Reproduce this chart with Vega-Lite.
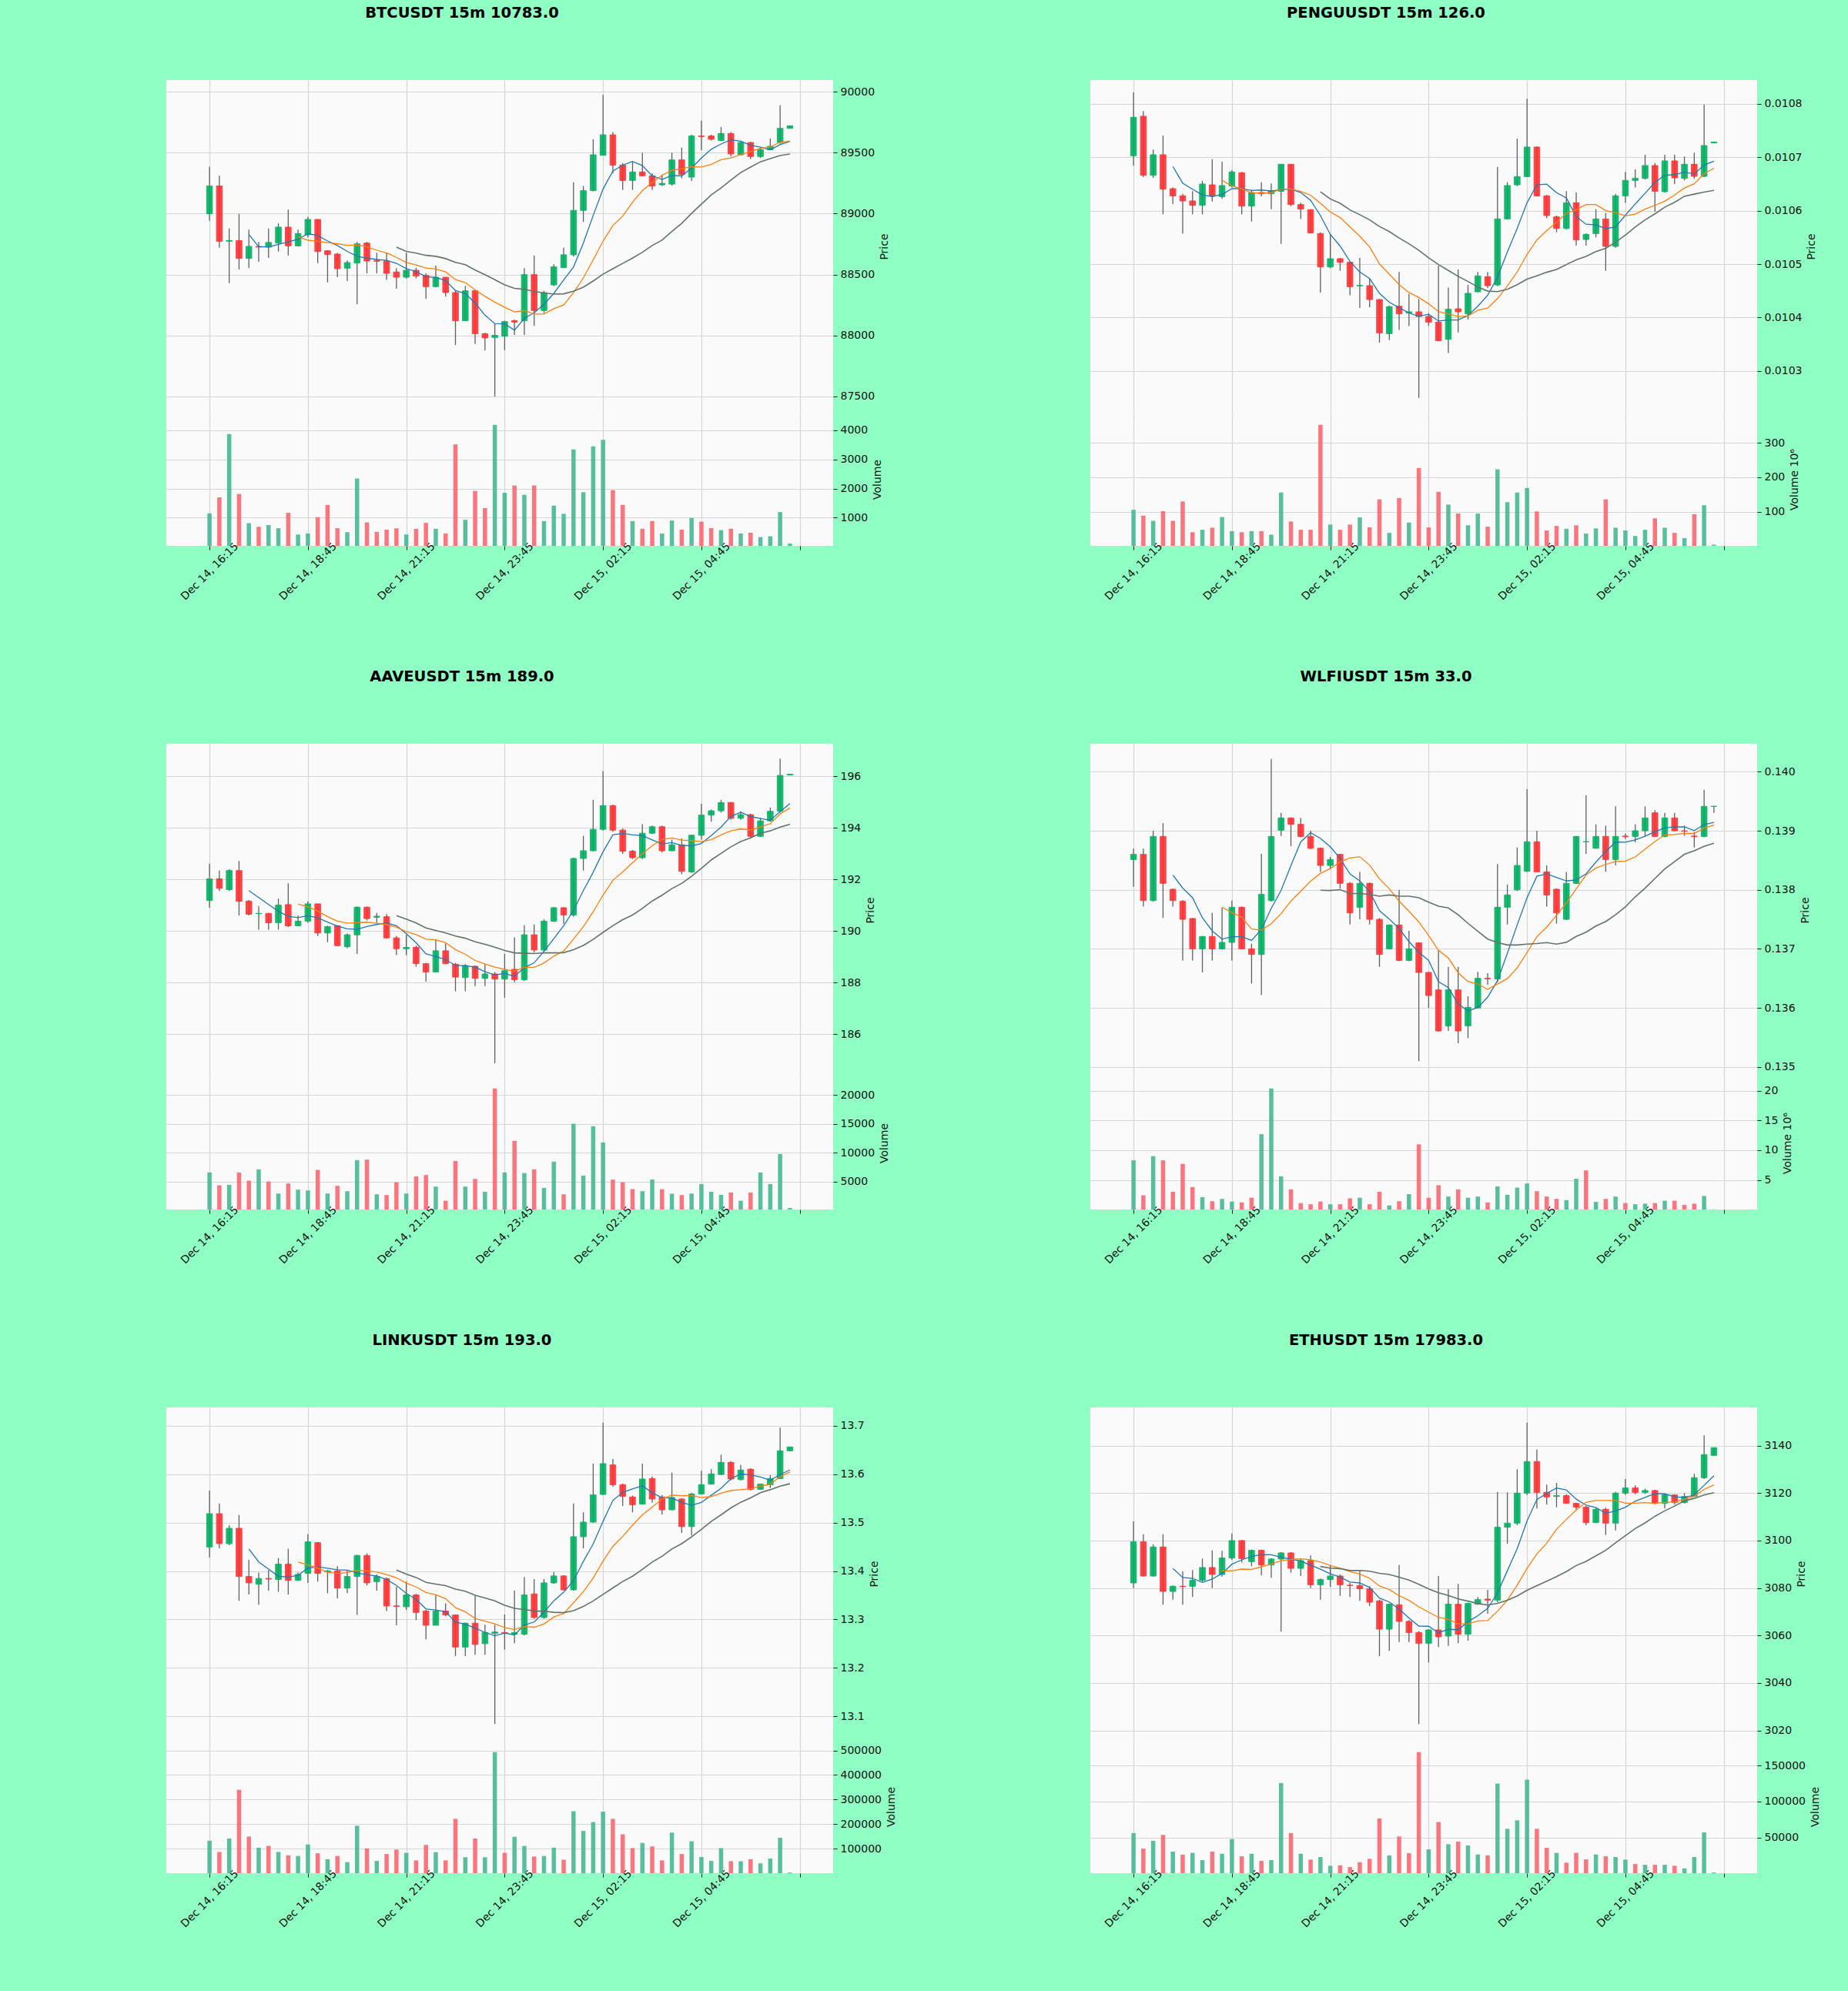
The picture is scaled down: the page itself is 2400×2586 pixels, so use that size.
{
  "$schema": "https://vega.github.io/schema/vega-lite/v6.json",
  "background": "#8fffc4",
  "padding": {"left": 216, "top": 6, "right": 48, "bottom": 81},
  "datasets": {
    "btc": [
      {"i":0,"o":88998,"h":89383,"l":88941,"c":89226,"v":1150},{"i":1,"o":89226,"h":89310,"l":88720,"c":88773,"v":1700},{"i":2,"o":88773,"h":88878,"l":88430,"c":88779,"v":3870},{"i":3,"o":88779,"h":88998,"l":88542,"c":88632,"v":1815},{"i":4,"o":88632,"h":88868,"l":88552,"c":88731,"v":815},{"i":5,"o":88731,"h":88767,"l":88605,"c":88725,"v":690},{"i":6,"o":88725,"h":88878,"l":88636,"c":88763,"v":750},{"i":7,"o":88758,"h":88920,"l":88689,"c":88889,"v":640},{"i":8,"o":88889,"h":89032,"l":88657,"c":88735,"v":1170},{"i":9,"o":88735,"h":88868,"l":88731,"c":88836,"v":425},
      {"i":10,"o":88826,"h":88973,"l":88805,"c":88952,"v":460},{"i":11,"o":88952,"h":88952,"l":88594,"c":88689,"v":1020},{"i":12,"o":88695,"h":88699,"l":88436,"c":88664,"v":1440},{"i":13,"o":88668,"h":88678,"l":88478,"c":88548,"v":640},{"i":14,"o":88552,"h":88615,"l":88447,"c":88598,"v":505},{"i":15,"o":88594,"h":88767,"l":88257,"c":88752,"v":2345},{"i":16,"o":88758,"h":88767,"l":88510,"c":88611,"v":840},{"i":17,"o":88615,"h":88678,"l":88510,"c":88609,"v":513},{"i":18,"o":88611,"h":88678,"l":88457,"c":88510,"v":593},{"i":19,"o":88521,"h":88552,"l":88384,"c":88478,"v":637},
      {"i":20,"o":88478,"h":88678,"l":88468,"c":88535,"v":425},{"i":21,"o":88535,"h":88556,"l":88468,"c":88489,"v":620},{"i":22,"o":88493,"h":88510,"l":88300,"c":88401,"v":823},{"i":23,"o":88401,"h":88573,"l":88394,"c":88478,"v":620},{"i":24,"o":88478,"h":88478,"l":88321,"c":88352,"v":460},{"i":25,"o":88352,"h":88373,"l":87921,"c":88121,"v":3513},{"i":26,"o":88121,"h":88405,"l":88121,"c":88367,"v":930},{"i":27,"o":88367,"h":88373,"l":87931,"c":88015,"v":1920},{"i":28,"o":88015,"h":88022,"l":87879,"c":87980,"v":1330},{"i":29,"o":87984,"h":88100,"l":87500,"c":88001,"v":4186},
      {"i":30,"o":87994,"h":88121,"l":87879,"c":88114,"v":1858},{"i":31,"o":88121,"h":88131,"l":88005,"c":88110,"v":2106},{"i":32,"o":88121,"h":88552,"l":88005,"c":88499,"v":1788},{"i":33,"o":88499,"h":88657,"l":88079,"c":88205,"v":2106},{"i":34,"o":88205,"h":88367,"l":88184,"c":88352,"v":885},{"i":35,"o":88415,"h":88584,"l":88405,"c":88563,"v":1416},{"i":36,"o":88556,"h":88720,"l":88552,"c":88662,"v":1133},{"i":37,"o":88662,"h":89257,"l":88647,"c":89026,"v":3345},{"i":38,"o":89026,"h":89226,"l":88931,"c":89188,"v":1876},{"i":39,"o":89188,"h":89609,"l":89183,"c":89482,"v":3451},
      {"i":40,"o":89478,"h":89973,"l":89478,"c":89646,"v":3673},{"i":41,"o":89646,"h":89668,"l":89331,"c":89398,"v":1947},{"i":42,"o":89398,"h":89415,"l":89194,"c":89272,"v":1442},{"i":43,"o":89272,"h":89425,"l":89194,"c":89341,"v":885},{"i":44,"o":89341,"h":89499,"l":89305,"c":89310,"v":620},{"i":45,"o":89310,"h":89331,"l":89194,"c":89226,"v":885},{"i":46,"o":89236,"h":89320,"l":89226,"c":89248,"v":460},{"i":47,"o":89242,"h":89499,"l":89230,"c":89440,"v":903},{"i":48,"o":89440,"h":89541,"l":89289,"c":89320,"v":593},{"i":49,"o":89299,"h":89646,"l":89268,"c":89636,"v":991},
      {"i":50,"o":89636,"h":89762,"l":89520,"c":89632,"v":867},{"i":51,"o":89636,"h":89646,"l":89600,"c":89609,"v":646},{"i":52,"o":89600,"h":89710,"l":89594,"c":89657,"v":575},{"i":53,"o":89657,"h":89668,"l":89468,"c":89489,"v":620},{"i":54,"o":89482,"h":89594,"l":89478,"c":89583,"v":460},{"i":55,"o":89583,"h":89588,"l":89447,"c":89468,"v":487},{"i":56,"o":89468,"h":89541,"l":89457,"c":89524,"v":336},{"i":57,"o":89524,"h":89615,"l":89520,"c":89552,"v":363},{"i":58,"o":89583,"h":89888,"l":89573,"c":89699,"v":1195},{"i":59,"o":89699,"h":89720,"l":89699,"c":89720,"v":115}
    ],
    "pengu": [
      {"i":0,"o":0.0107029,"h":0.0108216,"l":0.0106846,"c":0.0107750,"v":106},{"i":1,"o":0.0107769,"h":0.0107865,"l":0.0106630,"c":0.0106663,"v":89},{"i":2,"o":0.0106663,"h":0.0107144,"l":0.0106615,"c":0.0107048,"v":74},{"i":3,"o":0.0107048,"h":0.0107409,"l":0.0105933,"c":0.0106404,"v":102},{"i":4,"o":0.0106413,"h":0.0106437,"l":0.0106125,"c":0.0106279,"v":74},{"i":5,"o":0.0106279,"h":0.0106317,"l":0.0105572,"c":0.0106183,"v":130},{"i":6,"o":0.0106183,"h":0.0106365,"l":0.0105933,"c":0.0106101,"v":41},{"i":7,"o":0.0106101,"h":0.0106558,"l":0.0105933,"c":0.0106500,"v":48},{"i":8,"o":0.0106485,"h":0.0106966,"l":0.0106173,"c":0.0106269,"v":54},{"i":9,"o":0.0106260,"h":0.0106918,"l":0.0106221,"c":0.0106471,"v":85},
      {"i":10,"o":0.0106461,"h":0.0106760,"l":0.0106437,"c":0.0106726,"v":44},{"i":11,"o":0.0106711,"h":0.0106726,"l":0.0105933,"c":0.0106086,"v":41},{"i":12,"o":0.0106086,"h":0.0106389,"l":0.0105798,"c":0.0106341,"v":44},{"i":13,"o":0.0106341,"h":0.0106534,"l":0.0106269,"c":0.0106317,"v":44},{"i":14,"o":0.0106317,"h":0.0106510,"l":0.0106029,"c":0.0106375,"v":34},{"i":15,"o":0.0106365,"h":0.0106870,"l":0.0105380,"c":0.0106870,"v":156},{"i":16,"o":0.0106870,"h":0.0106870,"l":0.0106086,"c":0.0106115,"v":72},{"i":17,"o":0.0106115,"h":0.0106149,"l":0.0105846,"c":0.0106029,"v":48},{"i":18,"o":0.0106019,"h":0.0106029,"l":0.0105572,"c":0.0105586,"v":48},{"i":19,"o":0.0105572,"h":0.0105596,"l":0.0104466,"c":0.0104947,"v":352},
      {"i":20,"o":0.0104947,"h":0.0105558,"l":0.0104923,"c":0.0105101,"v":63},{"i":21,"o":0.0105101,"h":0.0105115,"l":0.0104875,"c":0.0105033,"v":48},{"i":22,"o":0.0105033,"h":0.0105043,"l":0.0104418,"c":0.0104577,"v":63},{"i":23,"o":0.0104590,"h":0.0105115,"l":0.0104178,"c":0.0104600,"v":84},{"i":24,"o":0.0104596,"h":0.0104731,"l":0.0104192,"c":0.0104336,"v":55},{"i":25,"o":0.0104336,"h":0.0104346,"l":0.0103529,"c":0.0103711,"v":136},{"i":26,"o":0.0103697,"h":0.0104226,"l":0.0103577,"c":0.0104202,"v":39},{"i":27,"o":0.0104211,"h":0.0104851,"l":0.0103769,"c":0.0104067,"v":140},{"i":28,"o":0.0104081,"h":0.0104442,"l":0.0103841,"c":0.0104106,"v":69},{"i":29,"o":0.0104106,"h":0.0104346,"l":0.0102495,"c":0.0104019,"v":227},
      {"i":30,"o":0.0104019,"h":0.0104081,"l":0.0103841,"c":0.0103913,"v":55},{"i":31,"o":0.0103913,"h":0.0104971,"l":0.0103553,"c":0.0103567,"v":158},{"i":32,"o":0.0103591,"h":0.0104562,"l":0.0103336,"c":0.0104154,"v":121},{"i":33,"o":0.0104163,"h":0.0104899,"l":0.0103721,"c":0.0104106,"v":95},{"i":34,"o":0.0104067,"h":0.0104610,"l":0.0103961,"c":0.0104452,"v":61},{"i":35,"o":0.0104481,"h":0.0104851,"l":0.0104466,"c":0.0104779,"v":95},{"i":36,"o":0.0104764,"h":0.0104851,"l":0.0104548,"c":0.0104596,"v":57},{"i":37,"o":0.0104610,"h":0.0106822,"l":0.0104586,"c":0.0105846,"v":223},{"i":38,"o":0.0105846,"h":0.0106534,"l":0.0105836,"c":0.0106471,"v":128},{"i":39,"o":0.0106485,"h":0.0107351,"l":0.0106461,"c":0.0106639,"v":156},
      {"i":40,"o":0.0106639,"h":0.0108096,"l":0.0106630,"c":0.0107192,"v":169},{"i":41,"o":0.0107192,"h":0.0107207,"l":0.0106269,"c":0.0106279,"v":101},{"i":42,"o":0.0106279,"h":0.0106293,"l":0.0105860,"c":0.0105909,"v":46},{"i":43,"o":0.0105884,"h":0.0105909,"l":0.0105596,"c":0.0105668,"v":59},{"i":44,"o":0.0105668,"h":0.0106365,"l":0.0105644,"c":0.0106149,"v":51},{"i":45,"o":0.0106149,"h":0.0106341,"l":0.0105346,"c":0.0105452,"v":61},{"i":46,"o":0.0105461,"h":0.0105572,"l":0.0105346,"c":0.0105558,"v":37},{"i":47,"o":0.0105572,"h":0.0106029,"l":0.0105500,"c":0.0105846,"v":52},{"i":48,"o":0.0105846,"h":0.0105957,"l":0.0104875,"c":0.0105332,"v":136},{"i":49,"o":0.0105332,"h":0.0106317,"l":0.0105308,"c":0.0106279,"v":54},
      {"i":50,"o":0.0106279,"h":0.0106726,"l":0.0106149,"c":0.0106567,"v":46},{"i":51,"o":0.0106567,"h":0.0106774,"l":0.0106437,"c":0.0106606,"v":30},{"i":52,"o":0.0106606,"h":0.0107048,"l":0.0106582,"c":0.0106846,"v":48},{"i":53,"o":0.0106846,"h":0.0106894,"l":0.0105981,"c":0.0106365,"v":81},{"i":54,"o":0.0106356,"h":0.0107048,"l":0.0106341,"c":0.0106933,"v":54},{"i":55,"o":0.0106933,"h":0.0107048,"l":0.0106500,"c":0.0106615,"v":39},{"i":56,"o":0.0106606,"h":0.0107014,"l":0.0106567,"c":0.0106870,"v":24},{"i":57,"o":0.0106870,"h":0.0107086,"l":0.0106596,"c":0.0106644,"v":93},{"i":58,"o":0.0106644,"h":0.0107990,"l":0.0106630,"c":0.0107221,"v":119},{"i":59,"o":0.0107269,"h":0.0107288,"l":0.0107269,"c":0.0107288,"v":5}
    ],
    "aave": [
      {"i":0,"o":191.18,"h":192.61,"l":190.90,"c":192.02,"v":6562},{"i":1,"o":192.02,"h":192.34,"l":191.55,"c":191.65,"v":4330},{"i":2,"o":191.60,"h":192.39,"l":191.55,"c":192.34,"v":4420},{"i":3,"o":192.34,"h":192.71,"l":190.60,"c":191.15,"v":6562},{"i":4,"o":191.15,"h":191.20,"l":190.60,"c":190.65,"v":5134},{"i":5,"o":190.67,"h":190.95,"l":190.05,"c":190.68,"v":7098},{"i":6,"o":190.68,"h":190.70,"l":190.05,"c":190.32,"v":5000},{"i":7,"o":190.32,"h":191.25,"l":190.05,"c":191.00,"v":2902},{"i":8,"o":191.02,"h":191.85,"l":190.15,"c":190.20,"v":4643},{"i":9,"o":190.20,"h":190.60,"l":190.18,"c":190.38,"v":3571},
      {"i":10,"o":190.38,"h":191.15,"l":190.32,"c":191.05,"v":3437},{"i":11,"o":191.05,"h":191.05,"l":189.80,"c":189.92,"v":7009},{"i":12,"o":189.92,"h":190.20,"l":189.56,"c":190.17,"v":2902},{"i":13,"o":190.20,"h":190.22,"l":189.41,"c":189.43,"v":4241},{"i":14,"o":189.39,"h":189.90,"l":189.33,"c":189.85,"v":3304},{"i":15,"o":189.85,"h":190.95,"l":189.11,"c":190.92,"v":8705},{"i":16,"o":190.92,"h":190.95,"l":190.40,"c":190.48,"v":8794},{"i":17,"o":190.53,"h":190.70,"l":190.32,"c":190.57,"v":2768},{"i":18,"o":190.55,"h":190.65,"l":189.71,"c":189.73,"v":2634},{"i":19,"o":189.73,"h":189.80,"l":189.06,"c":189.31,"v":4866},
      {"i":20,"o":189.31,"h":189.85,"l":189.06,"c":189.36,"v":2902},{"i":21,"o":189.36,"h":189.43,"l":188.61,"c":188.73,"v":5893},{"i":22,"o":188.73,"h":188.76,"l":188.03,"c":188.41,"v":6116},{"i":23,"o":188.41,"h":189.66,"l":188.41,"c":189.23,"v":4107},{"i":24,"o":189.23,"h":189.51,"l":188.71,"c":188.73,"v":1652},{"i":25,"o":188.71,"h":188.76,"l":187.66,"c":188.21,"v":8571},{"i":26,"o":188.19,"h":188.71,"l":187.66,"c":188.66,"v":4107},{"i":27,"o":188.63,"h":188.66,"l":187.86,"c":188.16,"v":5446},{"i":28,"o":188.16,"h":188.71,"l":187.86,"c":188.33,"v":3214},{"i":29,"o":188.33,"h":188.41,"l":184.87,"c":188.13,"v":21160},
      {"i":30,"o":188.13,"h":189.11,"l":187.41,"c":188.46,"v":6562},{"i":31,"o":188.51,"h":189.75,"l":188.01,"c":188.11,"v":12053},{"i":32,"o":188.11,"h":190.22,"l":188.06,"c":189.85,"v":6473},{"i":33,"o":189.85,"h":190.25,"l":189.16,"c":189.26,"v":7098},{"i":34,"o":189.26,"h":190.45,"l":189.23,"c":190.38,"v":3884},{"i":35,"o":190.38,"h":190.92,"l":190.35,"c":190.90,"v":8437},{"i":36,"o":190.90,"h":190.92,"l":190.28,"c":190.62,"v":2768},{"i":37,"o":190.62,"h":192.84,"l":190.55,"c":192.81,"v":15044},{"i":38,"o":192.81,"h":193.69,"l":192.34,"c":193.11,"v":6027},{"i":39,"o":193.11,"h":195.08,"l":193.09,"c":193.94,"v":14598},
      {"i":40,"o":193.94,"h":196.20,"l":193.89,"c":194.86,"v":11785},{"i":41,"o":194.86,"h":194.90,"l":193.84,"c":193.91,"v":5312},{"i":42,"o":193.91,"h":193.97,"l":192.99,"c":193.09,"v":4866},{"i":43,"o":193.09,"h":193.14,"l":192.79,"c":192.84,"v":3661},{"i":44,"o":192.84,"h":194.14,"l":192.79,"c":193.79,"v":3304},{"i":45,"o":193.79,"h":194.09,"l":193.77,"c":194.04,"v":5357},{"i":46,"o":194.04,"h":194.09,"l":193.04,"c":193.11,"v":3661},{"i":47,"o":193.11,"h":193.54,"l":193.09,"c":193.34,"v":2857},{"i":48,"o":193.34,"h":193.59,"l":192.20,"c":192.31,"v":2634},{"i":49,"o":192.29,"h":193.74,"l":192.25,"c":193.71,"v":2902},
      {"i":50,"o":193.71,"h":194.93,"l":193.54,"c":194.49,"v":4553},{"i":51,"o":194.49,"h":194.71,"l":194.24,"c":194.66,"v":3214},{"i":52,"o":194.66,"h":195.08,"l":194.59,"c":194.98,"v":2678},{"i":53,"o":194.98,"h":195.00,"l":194.31,"c":194.37,"v":3080},{"i":54,"o":194.37,"h":194.64,"l":194.31,"c":194.51,"v":1652},{"i":55,"o":194.51,"h":194.54,"l":193.59,"c":193.67,"v":3080},{"i":56,"o":193.67,"h":194.39,"l":193.64,"c":194.27,"v":6562},{"i":57,"o":194.27,"h":194.78,"l":194.24,"c":194.64,"v":4553},{"i":58,"o":194.64,"h":196.68,"l":194.59,"c":196.03,"v":9776},{"i":59,"o":196.05,"h":196.08,"l":196.05,"c":196.08,"v":402}
    ],
    "wlfi": [
      {"i":0,"o":0.138513,"h":0.138696,"l":0.138050,"c":0.138600,"v":8.3},{"i":1,"o":0.138600,"h":0.138696,"l":0.137717,"c":0.137817,"v":2.4},{"i":2,"o":0.137817,"h":0.139000,"l":0.137800,"c":0.138904,"v":9.0},{"i":3,"o":0.138904,"h":0.139130,"l":0.137522,"c":0.138109,"v":8.3},{"i":4,"o":0.138009,"h":0.138022,"l":0.137717,"c":0.137817,"v":3.0},{"i":5,"o":0.137804,"h":0.137826,"l":0.136804,"c":0.137500,"v":7.7},{"i":6,"o":0.137513,"h":0.137522,"l":0.136804,"c":0.137000,"v":3.8},{"i":7,"o":0.137000,"h":0.137217,"l":0.136600,"c":0.137209,"v":2.1},{"i":8,"o":0.137209,"h":0.137609,"l":0.136804,"c":0.137000,"v":1.4},{"i":9,"o":0.137000,"h":0.137696,"l":0.136990,"c":0.137109,"v":1.8},
      {"i":10,"o":0.137109,"h":0.137817,"l":0.136804,"c":0.137704,"v":1.35},{"i":11,"o":0.137704,"h":0.137717,"l":0.136990,"c":0.137000,"v":1.2},{"i":12,"o":0.137000,"h":0.137087,"l":0.136413,"c":0.136904,"v":2.0},{"i":13,"o":0.136904,"h":0.138609,"l":0.136217,"c":0.137922,"v":12.7},{"i":14,"o":0.137817,"h":0.140217,"l":0.137800,"c":0.138904,"v":20.4},{"i":15,"o":0.139009,"h":0.139304,"l":0.138913,"c":0.139217,"v":5.6},{"i":16,"o":0.139217,"h":0.139226,"l":0.138739,"c":0.139109,"v":3.4},{"i":17,"o":0.139109,"h":0.139217,"l":0.138891,"c":0.138904,"v":1.1},{"i":18,"o":0.138904,"h":0.139000,"l":0.138687,"c":0.138704,"v":0.9},{"i":19,"o":0.138704,"h":0.138717,"l":0.138304,"c":0.138413,"v":1.35},
      {"i":20,"o":0.138413,"h":0.138557,"l":0.138348,"c":0.138513,"v":0.9},{"i":21,"o":0.138600,"h":0.138609,"l":0.138022,"c":0.138109,"v":0.9},{"i":22,"o":0.138109,"h":0.138130,"l":0.137413,"c":0.137609,"v":1.9},{"i":23,"o":0.137704,"h":0.138304,"l":0.137500,"c":0.138109,"v":2.0},{"i":24,"o":0.138109,"h":0.138122,"l":0.137413,"c":0.137500,"v":0.9},{"i":25,"o":0.137500,"h":0.137522,"l":0.136696,"c":0.136904,"v":3.0},{"i":26,"o":0.137000,"h":0.137413,"l":0.136990,"c":0.137404,"v":0.7},{"i":27,"o":0.137404,"h":0.138000,"l":0.136791,"c":0.136804,"v":1.4},{"i":28,"o":0.136804,"h":0.137304,"l":0.136791,"c":0.137000,"v":2.6},{"i":29,"o":0.137100,"h":0.137109,"l":0.135096,"c":0.136600,"v":11.0},
      {"i":30,"o":0.136600,"h":0.136609,"l":0.136000,"c":0.136209,"v":2.0},{"i":31,"o":0.136304,"h":0.136978,"l":0.135600,"c":0.135609,"v":4.1},{"i":32,"o":0.135696,"h":0.136696,"l":0.135609,"c":0.136304,"v":2.2},{"i":33,"o":0.136304,"h":0.136696,"l":0.135400,"c":0.135609,"v":3.4},{"i":34,"o":0.135696,"h":0.136196,"l":0.135487,"c":0.136009,"v":2.0},{"i":35,"o":0.136000,"h":0.136609,"l":0.135991,"c":0.136500,"v":2.2},{"i":36,"o":0.136500,"h":0.136587,"l":0.136391,"c":0.136490,"v":1.2},{"i":37,"o":0.136490,"h":0.138435,"l":0.136435,"c":0.137704,"v":3.9},{"i":38,"o":0.137704,"h":0.138087,"l":0.137413,"c":0.137913,"v":2.5},{"i":39,"o":0.138000,"h":0.138717,"l":0.137978,"c":0.138413,"v":3.7},
      {"i":40,"o":0.138313,"h":0.139704,"l":0.138304,"c":0.138813,"v":4.4},{"i":41,"o":0.138813,"h":0.139000,"l":0.138296,"c":0.138304,"v":3.1},{"i":42,"o":0.138304,"h":0.138413,"l":0.137717,"c":0.137913,"v":2.2},{"i":43,"o":0.138009,"h":0.138022,"l":0.137426,"c":0.137609,"v":1.8},{"i":44,"o":0.137500,"h":0.138304,"l":0.137487,"c":0.138109,"v":1.6},{"i":45,"o":0.138109,"h":0.138913,"l":0.138096,"c":0.138904,"v":5.2},{"i":46,"o":0.138813,"h":0.139600,"l":0.138609,"c":0.138815,"v":6.6},{"i":47,"o":0.138704,"h":0.139109,"l":0.138696,"c":0.138904,"v":1.3},{"i":48,"o":0.138904,"h":0.139087,"l":0.138304,"c":0.138513,"v":1.8},{"i":49,"o":0.138513,"h":0.139413,"l":0.138413,"c":0.138904,"v":2.2},
      {"i":50,"o":0.138910,"h":0.138950,"l":0.138860,"c":0.138900,"v":1.1},{"i":51,"o":0.138904,"h":0.139109,"l":0.138804,"c":0.139000,"v":0.9},{"i":52,"o":0.139000,"h":0.139413,"l":0.138913,"c":0.139217,"v":1.0},{"i":53,"o":0.139304,"h":0.139348,"l":0.138896,"c":0.138904,"v":1.1},{"i":54,"o":0.138904,"h":0.139304,"l":0.138891,"c":0.139217,"v":1.5},{"i":55,"o":0.139217,"h":0.139304,"l":0.138991,"c":0.139000,"v":1.5},{"i":56,"o":0.139000,"h":0.139087,"l":0.138913,"c":0.138990,"v":0.8},{"i":57,"o":0.138910,"h":0.138978,"l":0.138717,"c":0.138900,"v":1.0},{"i":58,"o":0.138904,"h":0.139696,"l":0.138891,"c":0.139413,"v":2.3},{"i":59,"o":0.139413,"h":0.139415,"l":0.139304,"c":0.139415,"v":0.04}
    ],
    "link": [
      {"i":0,"o":13.4496,"h":13.5661,"l":13.4284,"c":13.5184,"v":133000},{"i":1,"o":13.5184,"h":13.5396,"l":13.4469,"c":13.4565,"v":87500},{"i":2,"o":13.4565,"h":13.4946,"l":13.4533,"c":13.4882,"v":142000},{"i":3,"o":13.4882,"h":13.5158,"l":13.3384,"c":13.3887,"v":340000},{"i":4,"o":13.3887,"h":13.4231,"l":13.3517,"c":13.3755,"v":150000},{"i":5,"o":13.3728,"h":13.3967,"l":13.3305,"c":13.3845,"v":105000},{"i":6,"o":13.3845,"h":13.4019,"l":13.3596,"c":13.3834,"v":112000},{"i":7,"o":13.3824,"h":13.4268,"l":13.3570,"c":13.4141,"v":87500},{"i":8,"o":13.4141,"h":13.4459,"l":13.3517,"c":13.3808,"v":74000},{"i":9,"o":13.3808,"h":13.3967,"l":13.3792,"c":13.3930,"v":71000},
      {"i":10,"o":13.3951,"h":13.4760,"l":13.3755,"c":13.4602,"v":118000},{"i":11,"o":13.4586,"h":13.4602,"l":13.3781,"c":13.3951,"v":82000},{"i":12,"o":13.3982,"h":13.4019,"l":13.3543,"c":13.4003,"v":58000},{"i":13,"o":13.4003,"h":13.4099,"l":13.3437,"c":13.3649,"v":71000},{"i":14,"o":13.3649,"h":13.4003,"l":13.3543,"c":13.3887,"v":46000},{"i":15,"o":13.3887,"h":13.4337,"l":13.3093,"c":13.4321,"v":194000},{"i":16,"o":13.4321,"h":13.4364,"l":13.3702,"c":13.3755,"v":102000},{"i":17,"o":13.3781,"h":13.3930,"l":13.3596,"c":13.3887,"v":51000},{"i":18,"o":13.3845,"h":13.3861,"l":13.3172,"c":13.3278,"v":79000},{"i":19,"o":13.3280,"h":13.3675,"l":13.2881,"c":13.3270,"v":97000},
      {"i":20,"o":13.3262,"h":13.3781,"l":13.3199,"c":13.3506,"v":84000},{"i":21,"o":13.3506,"h":13.3527,"l":13.2987,"c":13.3146,"v":53000},{"i":22,"o":13.3172,"h":13.3199,"l":13.2590,"c":13.2881,"v":116000},{"i":23,"o":13.2881,"h":13.3517,"l":13.2881,"c":13.3172,"v":86500},{"i":24,"o":13.3172,"h":13.3331,"l":13.3067,"c":13.3093,"v":53000},{"i":25,"o":13.3093,"h":13.3104,"l":13.2246,"c":13.2431,"v":222000},{"i":26,"o":13.2431,"h":13.2934,"l":13.2246,"c":13.2924,"v":66000},{"i":27,"o":13.2924,"h":13.3490,"l":13.2273,"c":13.2484,"v":142000},{"i":28,"o":13.2500,"h":13.2892,"l":13.2273,"c":13.2733,"v":66000},{"i":29,"o":13.2712,"h":13.2892,"l":13.0843,"c":13.2740,"v":493000},
      {"i":30,"o":13.2730,"h":13.3104,"l":13.2378,"c":13.2720,"v":84000},{"i":31,"o":13.2696,"h":13.3596,"l":13.2511,"c":13.2730,"v":149000},{"i":32,"o":13.2696,"h":13.3877,"l":13.2670,"c":13.3506,"v":112000},{"i":33,"o":13.3527,"h":13.3834,"l":13.3014,"c":13.3040,"v":69000},{"i":34,"o":13.3040,"h":13.3834,"l":13.3014,"c":13.3755,"v":71000},{"i":35,"o":13.3755,"h":13.3982,"l":13.3739,"c":13.3898,"v":105000},{"i":36,"o":13.3898,"h":13.3914,"l":13.3596,"c":13.3612,"v":56000},{"i":37,"o":13.3612,"h":13.5396,"l":13.3596,"c":13.4708,"v":253000},{"i":38,"o":13.4708,"h":13.5211,"l":13.4469,"c":13.5009,"v":173000},{"i":39,"o":13.5009,"h":13.6217,"l":13.4999,"c":13.5571,"v":209000},
      {"i":40,"o":13.5581,"h":13.7064,"l":13.5571,"c":13.6217,"v":251000},{"i":41,"o":13.6190,"h":13.6312,"l":13.5740,"c":13.5782,"v":222000},{"i":42,"o":13.5782,"h":13.5804,"l":13.5343,"c":13.5539,"v":159000},{"i":43,"o":13.5528,"h":13.5555,"l":13.5211,"c":13.5369,"v":103000},{"i":44,"o":13.5380,"h":13.6217,"l":13.5369,"c":13.5899,"v":124000},{"i":45,"o":13.5909,"h":13.5952,"l":13.5412,"c":13.5486,"v":110000},{"i":46,"o":13.5528,"h":13.5571,"l":13.5168,"c":13.5264,"v":53000},{"i":47,"o":13.5264,"h":13.6031,"l":13.5253,"c":13.5518,"v":166000},{"i":48,"o":13.5486,"h":13.5502,"l":13.4787,"c":13.4919,"v":79000},{"i":49,"o":13.4919,"h":13.5608,"l":13.4734,"c":13.5592,"v":131000},
      {"i":50,"o":13.5592,"h":13.6068,"l":13.5581,"c":13.5782,"v":67000},{"i":51,"o":13.5793,"h":13.6100,"l":13.5782,"c":13.6005,"v":51000},{"i":52,"o":13.5994,"h":13.6402,"l":13.5978,"c":13.6243,"v":103000},{"i":53,"o":13.6243,"h":13.6269,"l":13.5872,"c":13.5899,"v":50000},{"i":54,"o":13.5888,"h":13.6190,"l":13.5872,"c":13.6084,"v":50000},{"i":55,"o":13.6100,"h":13.6121,"l":13.5661,"c":13.5687,"v":58000},{"i":56,"o":13.5687,"h":13.5804,"l":13.5676,"c":13.5793,"v":41000},{"i":57,"o":13.5782,"h":13.5978,"l":13.5714,"c":13.5909,"v":61000},{"i":58,"o":13.5909,"h":13.6958,"l":13.5899,"c":13.6481,"v":145000},{"i":59,"o":13.6481,"h":13.6561,"l":13.6481,"c":13.6561,"v":4000}
    ],
    "eth": [
      {"i":0,"o":3082.16,"h":3108.11,"l":3080.00,"c":3099.46,"v":56100},{"i":1,"o":3099.46,"h":3102.70,"l":3084.86,"c":3085.08,"v":34600},{"i":2,"o":3085.08,"h":3098.38,"l":3084.86,"c":3097.30,"v":45400},{"i":3,"o":3097.30,"h":3102.70,"l":3072.97,"c":3078.59,"v":53600},{"i":4,"o":3078.59,"h":3081.08,"l":3075.14,"c":3080.76,"v":30400},{"i":5,"o":3080.76,"h":3087.03,"l":3072.97,"c":3080.60,"v":26100},{"i":6,"o":3080.76,"h":3087.57,"l":3076.22,"c":3083.24,"v":28600},{"i":7,"o":3083.24,"h":3092.43,"l":3082.70,"c":3088.65,"v":18600},{"i":8,"o":3088.65,"h":3095.89,"l":3080.00,"c":3085.73,"v":30400},{"i":9,"o":3085.73,"h":3095.68,"l":3084.86,"c":3092.65,"v":27500},
      {"i":10,"o":3092.65,"h":3103.03,"l":3091.89,"c":3100.00,"v":47900},{"i":11,"o":3100.00,"h":3100.22,"l":3090.81,"c":3092.43,"v":23900},{"i":12,"o":3091.14,"h":3096.22,"l":3089.19,"c":3095.89,"v":27500},{"i":13,"o":3095.89,"h":3096.22,"l":3085.41,"c":3089.73,"v":17500},{"i":14,"o":3089.73,"h":3092.65,"l":3084.32,"c":3092.22,"v":18600},{"i":15,"o":3092.22,"h":3095.14,"l":3061.62,"c":3094.81,"v":125700},{"i":16,"o":3094.81,"h":3095.14,"l":3086.49,"c":3088.32,"v":56100},{"i":17,"o":3088.32,"h":3092.22,"l":3085.08,"c":3091.57,"v":27500},{"i":18,"o":3091.57,"h":3093.73,"l":3080.00,"c":3081.41,"v":19300},{"i":19,"o":3081.41,"h":3084.00,"l":3075.14,"c":3083.57,"v":22900},
      {"i":20,"o":3083.57,"h":3089.73,"l":3080.54,"c":3085.08,"v":10700},{"i":21,"o":3085.08,"h":3085.73,"l":3076.76,"c":3081.41,"v":11400},{"i":22,"o":3081.20,"h":3082.16,"l":3076.22,"c":3081.08,"v":8900},{"i":23,"o":3081.08,"h":3087.57,"l":3074.59,"c":3079.68,"v":15700},{"i":24,"o":3079.68,"h":3080.76,"l":3072.43,"c":3074.05,"v":20400},{"i":25,"o":3074.59,"h":3075.14,"l":3051.35,"c":3062.70,"v":76400},{"i":26,"o":3062.70,"h":3073.51,"l":3053.51,"c":3073.19,"v":25000},{"i":27,"o":3072.97,"h":3089.73,"l":3057.30,"c":3065.95,"v":51400},{"i":28,"o":3065.95,"h":3066.49,"l":3057.30,"c":3061.30,"v":28200},{"i":29,"o":3061.30,"h":3061.84,"l":3022.70,"c":3056.76,"v":168600},
      {"i":30,"o":3056.76,"h":3062.70,"l":3048.65,"c":3062.38,"v":33600},{"i":31,"o":3062.38,"h":3085.08,"l":3055.14,"c":3059.46,"v":71400},{"i":32,"o":3059.78,"h":3079.46,"l":3055.68,"c":3073.19,"v":40700},{"i":33,"o":3073.19,"h":3081.84,"l":3056.76,"c":3060.54,"v":44300},{"i":34,"o":3060.54,"h":3073.84,"l":3057.84,"c":3073.51,"v":38900},{"i":35,"o":3073.19,"h":3076.22,"l":3072.97,"c":3075.14,"v":26400},{"i":36,"o":3075.35,"h":3079.24,"l":3069.19,"c":3074.92,"v":25000},{"i":37,"o":3074.92,"h":3120.54,"l":3074.05,"c":3105.62,"v":125000},{"i":38,"o":3105.62,"h":3120.32,"l":3098.70,"c":3107.35,"v":62100},{"i":39,"o":3107.35,"h":3130.05,"l":3106.49,"c":3120.00,"v":73900},
      {"i":40,"o":3120.00,"h":3149.73,"l":3119.24,"c":3133.30,"v":130400},{"i":41,"o":3133.30,"h":3138.38,"l":3113.51,"c":3120.32,"v":62100},{"i":42,"o":3120.32,"h":3123.57,"l":3115.14,"c":3118.38,"v":35700},{"i":43,"o":3118.60,"h":3124.32,"l":3114.05,"c":3118.92,"v":28600},{"i":44,"o":3118.92,"h":3119.46,"l":3115.68,"c":3115.68,"v":15000},{"i":45,"o":3115.68,"h":3116.00,"l":3112.97,"c":3114.05,"v":28600},{"i":46,"o":3114.05,"h":3114.59,"l":3106.49,"c":3107.57,"v":19600},{"i":47,"o":3107.57,"h":3113.51,"l":3107.35,"c":3113.19,"v":26400},{"i":48,"o":3113.19,"h":3113.84,"l":3102.38,"c":3107.35,"v":23900},{"i":49,"o":3107.35,"h":3120.54,"l":3104.32,"c":3120.00,"v":22900},
      {"i":50,"o":3120.00,"h":3125.95,"l":3119.24,"c":3122.16,"v":19300},{"i":51,"o":3122.16,"h":3123.24,"l":3119.46,"c":3120.32,"v":13200},{"i":52,"o":3120.32,"h":3121.84,"l":3119.68,"c":3121.08,"v":12100},{"i":53,"o":3121.08,"h":3121.41,"l":3115.35,"c":3115.68,"v":12100},{"i":54,"o":3115.68,"h":3119.46,"l":3113.51,"c":3119.24,"v":12100},{"i":55,"o":3119.24,"h":3119.46,"l":3115.14,"c":3116.00,"v":10700},{"i":56,"o":3116.00,"h":3120.00,"l":3115.68,"c":3118.59,"v":7100},{"i":57,"o":3118.59,"h":3128.11,"l":3118.38,"c":3126.49,"v":22900},{"i":58,"o":3126.49,"h":3144.32,"l":3125.95,"c":3136.22,"v":57100},{"i":59,"o":3135.89,"h":3139.14,"l":3135.89,"c":3139.14,"v":1400}
    ]
  },
  "columns": 2,
  "spacing": {"row": 0, "column": 334},
  "bounds": "flush",
  "concat": [
    {
      "title": {"text": "BTCUSDT 15m 10783.0", "anchor": "middle", "frame": "group", "dx": -49, "offset": 77},
      "width": 866, "height": 432, "data": {"name": "btc"},
      "encoding": {"x": {"field": "i", "type": "quantitative", "scale": {"domain": [-4, 63], "nice": false, "zero": false}, "axis": {"values": [0, 10, 20, 30, 40, 50, 60], "labels": false, "ticks": false, "domain": false, "title": null}}},
      "layer": [
        {"mark": {"type": "rule", "color": "#606060", "strokeWidth": 1.3}, "encoding": {"y": {"field": "l", "type": "quantitative", "scale": {"domain": [87367, 90095], "nice": false, "zero": false}, "axis": {"orient": "right", "values": [87500, 88000, 88500, 89000, 89500, 90000], "format": "d", "titleAngle": 270, "titleBaseline": "top"}, "title": "Price"}, "y2": {"field": "h"}}},
        {"mark": {"type": "bar", "size": 7.5, "strokeWidth": 1, "opacity": 0.9}, "encoding": {"y": {"field": "o", "type": "quantitative", "scale": {"domain": [87367, 90095], "nice": false, "zero": false}, "title": "Price"}, "y2": {"field": "c"}, "fill": {"condition": {"test": "datum.c >= datum.o", "value": "#00b060"}, "value": "#fe3032"}, "stroke": {"condition": {"test": "datum.c >= datum.o", "value": "#00b060"}, "value": "#fe3032"}}},
        {"transform": [{"window": [{"op": "mean", "field": "c", "as": "ma"}, {"op": "count", "as": "n"}], "frame": [-4, 0], "sort": [{"field": "i"}]}, {"filter": "datum.n >= 5"}], "mark": {"type": "line", "color": "#1f77b4", "strokeWidth": 1.3}, "encoding": {"y": {"field": "ma", "type": "quantitative", "scale": {"domain": [87367, 90095], "nice": false, "zero": false}, "title": "Price"}}},
        {"transform": [{"window": [{"op": "mean", "field": "c", "as": "ma"}, {"op": "count", "as": "n"}], "frame": [-9, 0], "sort": [{"field": "i"}]}, {"filter": "datum.n >= 10"}], "mark": {"type": "line", "color": "#ff7f0e", "strokeWidth": 1.3}, "encoding": {"y": {"field": "ma", "type": "quantitative", "scale": {"domain": [87367, 90095], "nice": false, "zero": false}, "title": "Price"}}},
        {"transform": [{"window": [{"op": "mean", "field": "c", "as": "ma"}, {"op": "count", "as": "n"}], "frame": [-19, 0], "sort": [{"field": "i"}]}, {"filter": "datum.n >= 20"}], "mark": {"type": "line", "color": "#637568", "strokeWidth": 1.6}, "encoding": {"y": {"field": "ma", "type": "quantitative", "scale": {"domain": [87367, 90095], "nice": false, "zero": false}, "title": "Price"}}}
      ]
    },
    {
      "title": {"text": "PENGUUSDT 15m 126.0", "anchor": "middle", "frame": "group", "dx": -49, "offset": 77},
      "width": 866, "height": 432, "data": {"name": "pengu"},
      "encoding": {"x": {"field": "i", "type": "quantitative", "scale": {"domain": [-4, 63], "nice": false, "zero": false}, "axis": {"values": [0, 10, 20, 30, 40, 50, 60], "labels": false, "ticks": false, "domain": false, "title": null}}},
      "layer": [
        {"mark": {"type": "rule", "color": "#606060", "strokeWidth": 1.3}, "encoding": {"y": {"field": "l", "type": "quantitative", "scale": {"domain": [0.0102217, 0.0108447], "nice": false, "zero": false}, "axis": {"orient": "right", "values": [0.0103, 0.0104, 0.0105, 0.0106, 0.0107, 0.0108], "format": ".4f", "titleAngle": 270, "titleBaseline": "top"}, "title": "Price"}, "y2": {"field": "h"}}},
        {"mark": {"type": "bar", "size": 7.5, "strokeWidth": 1, "opacity": 0.9}, "encoding": {"y": {"field": "o", "type": "quantitative", "scale": {"domain": [0.0102217, 0.0108447], "nice": false, "zero": false}, "title": "Price"}, "y2": {"field": "c"}, "fill": {"condition": {"test": "datum.c >= datum.o", "value": "#00b060"}, "value": "#fe3032"}, "stroke": {"condition": {"test": "datum.c >= datum.o", "value": "#00b060"}, "value": "#fe3032"}}},
        {"transform": [{"window": [{"op": "mean", "field": "c", "as": "ma"}, {"op": "count", "as": "n"}], "frame": [-4, 0], "sort": [{"field": "i"}]}, {"filter": "datum.n >= 5"}], "mark": {"type": "line", "color": "#1f77b4", "strokeWidth": 1.3}, "encoding": {"y": {"field": "ma", "type": "quantitative", "scale": {"domain": [0.0102217, 0.0108447], "nice": false, "zero": false}, "title": "Price"}}},
        {"transform": [{"window": [{"op": "mean", "field": "c", "as": "ma"}, {"op": "count", "as": "n"}], "frame": [-9, 0], "sort": [{"field": "i"}]}, {"filter": "datum.n >= 10"}], "mark": {"type": "line", "color": "#ff7f0e", "strokeWidth": 1.3}, "encoding": {"y": {"field": "ma", "type": "quantitative", "scale": {"domain": [0.0102217, 0.0108447], "nice": false, "zero": false}, "title": "Price"}}},
        {"transform": [{"window": [{"op": "mean", "field": "c", "as": "ma"}, {"op": "count", "as": "n"}], "frame": [-19, 0], "sort": [{"field": "i"}]}, {"filter": "datum.n >= 20"}], "mark": {"type": "line", "color": "#637568", "strokeWidth": 1.6}, "encoding": {"y": {"field": "ma", "type": "quantitative", "scale": {"domain": [0.0102217, 0.0108447], "nice": false, "zero": false}, "title": "Price"}}}
      ]
    },
    {
      "width": 866, "height": 173, "data": {"name": "btc"},
      "transform": [{"window": [{"op": "lag", "field": "c", "as": "pc"}], "sort": [{"field": "i"}]}],
      "mark": {"type": "bar", "size": 5.5, "clip": true, "opacity": 0.9},
      "encoding": {
        "x": {"field": "i", "type": "quantitative", "scale": {"domain": [-4, 63], "nice": false, "zero": false}, "axis": {"values": [0, 10, 20, 30, 40, 50, 60], "labelExpr": "['Dec 14, 16:15','Dec 14, 18:45','Dec 14, 21:15','Dec 14, 23:45','Dec 15, 02:15','Dec 15, 04:45',''][round(datum.value / 10)]", "labelAngle": -45, "labelAlign": "center", "labelBaseline": "middle", "labelPadding": 28, "labelOverlap": false, "labelFlush": false, "labelBound": false, "domain": false, "title": null}},
        "y": {"field": "v", "type": "quantitative", "scale": {"domain": [35, 4605], "nice": false, "zero": false}, "axis": {"orient": "right", "values": [1000, 2000, 3000, 4000], "format": "d", "titleAngle": 270, "titleBaseline": "top"}, "title": "Volume"},
        "fill": {"condition": {"test": "datum.pc == null ? datum.c >= datum.o : datum.c >= datum.pc", "value": "#45b894"}, "value": "#fa6670"}
      }
    },
    {
      "width": 866, "height": 173, "data": {"name": "pengu"},
      "transform": [{"window": [{"op": "lag", "field": "c", "as": "pc"}], "sort": [{"field": "i"}]}],
      "mark": {"type": "bar", "size": 5.5, "clip": true, "opacity": 0.9},
      "encoding": {
        "x": {"field": "i", "type": "quantitative", "scale": {"domain": [-4, 63], "nice": false, "zero": false}, "axis": {"values": [0, 10, 20, 30, 40, 50, 60], "labelExpr": "['Dec 14, 16:15','Dec 14, 18:45','Dec 14, 21:15','Dec 14, 23:45','Dec 15, 02:15','Dec 15, 04:45',''][round(datum.value / 10)]", "labelAngle": -45, "labelAlign": "center", "labelBaseline": "middle", "labelPadding": 28, "labelOverlap": false, "labelFlush": false, "labelBound": false, "domain": false, "title": null}},
        "y": {"field": "v", "type": "quantitative", "scale": {"domain": [1.5, 387], "nice": false, "zero": false}, "axis": {"orient": "right", "values": [100, 200, 300], "format": "d", "titleAngle": 270, "titleBaseline": "top"}, "title": "Volume  10⁶"},
        "fill": {"condition": {"test": "datum.pc == null ? datum.c >= datum.o : datum.c >= datum.pc", "value": "#45b894"}, "value": "#fa6670"}
      }
    },
    {"width": 866, "height": 257, "data": {"values": [{}]}, "mark": {"type": "point", "opacity": 0}, "view": {"fill": null, "stroke": null}},
    {"width": 866, "height": 257, "data": {"values": [{}]}, "mark": {"type": "point", "opacity": 0}, "view": {"fill": null, "stroke": null}},
    {
      "title": {"text": "AAVEUSDT 15m 189.0", "anchor": "middle", "frame": "group", "dx": -49, "offset": 77},
      "width": 866, "height": 432, "data": {"name": "aave"},
      "encoding": {"x": {"field": "i", "type": "quantitative", "scale": {"domain": [-4, 63], "nice": false, "zero": false}, "axis": {"values": [0, 10, 20, 30, 40, 50, 60], "labels": false, "ticks": false, "domain": false, "title": null}}},
      "layer": [
        {"mark": {"type": "rule", "color": "#606060", "strokeWidth": 1.3}, "encoding": {"y": {"field": "l", "type": "quantitative", "scale": {"domain": [184.36, 197.26], "nice": false, "zero": false}, "axis": {"orient": "right", "values": [186, 188, 190, 192, 194, 196], "format": "d", "titleAngle": 270, "titleBaseline": "top"}, "title": "Price"}, "y2": {"field": "h"}}},
        {"mark": {"type": "bar", "size": 7.5, "strokeWidth": 1, "opacity": 0.9}, "encoding": {"y": {"field": "o", "type": "quantitative", "scale": {"domain": [184.36, 197.26], "nice": false, "zero": false}, "title": "Price"}, "y2": {"field": "c"}, "fill": {"condition": {"test": "datum.c >= datum.o", "value": "#00b060"}, "value": "#fe3032"}, "stroke": {"condition": {"test": "datum.c >= datum.o", "value": "#00b060"}, "value": "#fe3032"}}},
        {"transform": [{"window": [{"op": "mean", "field": "c", "as": "ma"}, {"op": "count", "as": "n"}], "frame": [-4, 0], "sort": [{"field": "i"}]}, {"filter": "datum.n >= 5"}], "mark": {"type": "line", "color": "#1f77b4", "strokeWidth": 1.3}, "encoding": {"y": {"field": "ma", "type": "quantitative", "scale": {"domain": [184.36, 197.26], "nice": false, "zero": false}, "title": "Price"}}},
        {"transform": [{"window": [{"op": "mean", "field": "c", "as": "ma"}, {"op": "count", "as": "n"}], "frame": [-9, 0], "sort": [{"field": "i"}]}, {"filter": "datum.n >= 10"}], "mark": {"type": "line", "color": "#ff7f0e", "strokeWidth": 1.3}, "encoding": {"y": {"field": "ma", "type": "quantitative", "scale": {"domain": [184.36, 197.26], "nice": false, "zero": false}, "title": "Price"}}},
        {"transform": [{"window": [{"op": "mean", "field": "c", "as": "ma"}, {"op": "count", "as": "n"}], "frame": [-19, 0], "sort": [{"field": "i"}]}, {"filter": "datum.n >= 20"}], "mark": {"type": "line", "color": "#637568", "strokeWidth": 1.6}, "encoding": {"y": {"field": "ma", "type": "quantitative", "scale": {"domain": [184.36, 197.26], "nice": false, "zero": false}, "title": "Price"}}}
      ]
    },
    {
      "title": {"text": "WLFIUSDT 15m 33.0", "anchor": "middle", "frame": "group", "dx": -49, "offset": 77},
      "width": 866, "height": 432, "data": {"name": "wlfi"},
      "encoding": {"x": {"field": "i", "type": "quantitative", "scale": {"domain": [-4, 63], "nice": false, "zero": false}, "axis": {"values": [0, 10, 20, 30, 40, 50, 60], "labels": false, "ticks": false, "domain": false, "title": null}}},
      "layer": [
        {"mark": {"type": "rule", "color": "#606060", "strokeWidth": 1.3}, "encoding": {"y": {"field": "l", "type": "quantitative", "scale": {"domain": [0.13484, 0.140474], "nice": false, "zero": false}, "axis": {"orient": "right", "values": [0.135, 0.136, 0.137, 0.138, 0.139, 0.140], "format": ".3f", "titleAngle": 270, "titleBaseline": "top"}, "title": "Price"}, "y2": {"field": "h"}}},
        {"mark": {"type": "bar", "size": 7.5, "strokeWidth": 1, "opacity": 0.9}, "encoding": {"y": {"field": "o", "type": "quantitative", "scale": {"domain": [0.13484, 0.140474], "nice": false, "zero": false}, "title": "Price"}, "y2": {"field": "c"}, "fill": {"condition": {"test": "datum.c >= datum.o", "value": "#00b060"}, "value": "#fe3032"}, "stroke": {"condition": {"test": "datum.c >= datum.o", "value": "#00b060"}, "value": "#fe3032"}}},
        {"transform": [{"window": [{"op": "mean", "field": "c", "as": "ma"}, {"op": "count", "as": "n"}], "frame": [-4, 0], "sort": [{"field": "i"}]}, {"filter": "datum.n >= 5"}], "mark": {"type": "line", "color": "#1f77b4", "strokeWidth": 1.3}, "encoding": {"y": {"field": "ma", "type": "quantitative", "scale": {"domain": [0.13484, 0.140474], "nice": false, "zero": false}, "title": "Price"}}},
        {"transform": [{"window": [{"op": "mean", "field": "c", "as": "ma"}, {"op": "count", "as": "n"}], "frame": [-9, 0], "sort": [{"field": "i"}]}, {"filter": "datum.n >= 10"}], "mark": {"type": "line", "color": "#ff7f0e", "strokeWidth": 1.3}, "encoding": {"y": {"field": "ma", "type": "quantitative", "scale": {"domain": [0.13484, 0.140474], "nice": false, "zero": false}, "title": "Price"}}},
        {"transform": [{"window": [{"op": "mean", "field": "c", "as": "ma"}, {"op": "count", "as": "n"}], "frame": [-19, 0], "sort": [{"field": "i"}]}, {"filter": "datum.n >= 20"}], "mark": {"type": "line", "color": "#637568", "strokeWidth": 1.6}, "encoding": {"y": {"field": "ma", "type": "quantitative", "scale": {"domain": [0.13484, 0.140474], "nice": false, "zero": false}, "title": "Price"}}}
      ]
    },
    {
      "width": 866, "height": 173, "data": {"name": "aave"},
      "transform": [{"window": [{"op": "lag", "field": "c", "as": "pc"}], "sort": [{"field": "i"}]}],
      "mark": {"type": "bar", "size": 5.5, "clip": true, "opacity": 0.9},
      "encoding": {
        "x": {"field": "i", "type": "quantitative", "scale": {"domain": [-4, 63], "nice": false, "zero": false}, "axis": {"values": [0, 10, 20, 30, 40, 50, 60], "labelExpr": "['Dec 14, 16:15','Dec 14, 18:45','Dec 14, 21:15','Dec 14, 23:45','Dec 15, 02:15','Dec 15, 04:45',''][round(datum.value / 10)]", "labelAngle": -45, "labelAlign": "center", "labelBaseline": "middle", "labelPadding": 28, "labelOverlap": false, "labelFlush": false, "labelBound": false, "domain": false, "title": null}},
        "y": {"field": "v", "type": "quantitative", "scale": {"domain": [121, 23276], "nice": false, "zero": false}, "axis": {"orient": "right", "values": [5000, 10000, 15000, 20000], "format": "d", "titleAngle": 270, "titleBaseline": "top"}, "title": "Volume"},
        "fill": {"condition": {"test": "datum.pc == null ? datum.c >= datum.o : datum.c >= datum.pc", "value": "#45b894"}, "value": "#fa6670"}
      }
    },
    {
      "width": 866, "height": 173, "data": {"name": "wlfi"},
      "transform": [{"window": [{"op": "lag", "field": "c", "as": "pc"}], "sort": [{"field": "i"}]}],
      "mark": {"type": "bar", "size": 5.5, "clip": true, "opacity": 0.9},
      "encoding": {
        "x": {"field": "i", "type": "quantitative", "scale": {"domain": [-4, 63], "nice": false, "zero": false}, "axis": {"values": [0, 10, 20, 30, 40, 50, 60], "labelExpr": "['Dec 14, 16:15','Dec 14, 18:45','Dec 14, 21:15','Dec 14, 23:45','Dec 15, 02:15','Dec 15, 04:45',''][round(datum.value / 10)]", "labelAngle": -45, "labelAlign": "center", "labelBaseline": "middle", "labelPadding": 28, "labelOverlap": false, "labelFlush": false, "labelBound": false, "domain": false, "title": null}},
        "y": {"field": "v", "type": "quantitative", "scale": {"domain": [0.012, 22.44], "nice": false, "zero": false}, "axis": {"orient": "right", "values": [5, 10, 15, 20], "format": "d", "titleAngle": 270, "titleBaseline": "top"}, "title": "Volume  10⁶"},
        "fill": {"condition": {"test": "datum.pc == null ? datum.c >= datum.o : datum.c >= datum.pc", "value": "#45b894"}, "value": "#fa6670"}
      }
    },
    {"width": 866, "height": 257, "data": {"values": [{}]}, "mark": {"type": "point", "opacity": 0}, "view": {"fill": null, "stroke": null}},
    {"width": 866, "height": 257, "data": {"values": [{}]}, "mark": {"type": "point", "opacity": 0}, "view": {"fill": null, "stroke": null}},
    {
      "title": {"text": "LINKUSDT 15m 193.0", "anchor": "middle", "frame": "group", "dx": -49, "offset": 77},
      "width": 866, "height": 432, "data": {"name": "link"},
      "encoding": {"x": {"field": "i", "type": "quantitative", "scale": {"domain": [-4, 63], "nice": false, "zero": false}, "axis": {"values": [0, 10, 20, 30, 40, 50, 60], "labels": false, "ticks": false, "domain": false, "title": null}}},
      "layer": [
        {"mark": {"type": "rule", "color": "#606060", "strokeWidth": 1.3}, "encoding": {"y": {"field": "l", "type": "quantitative", "scale": {"domain": [13.0512, 13.7377], "nice": false, "zero": false}, "axis": {"orient": "right", "values": [13.1, 13.2, 13.3, 13.4, 13.5, 13.6, 13.7], "format": ".1f", "titleAngle": 270, "titleBaseline": "top"}, "title": "Price"}, "y2": {"field": "h"}}},
        {"mark": {"type": "bar", "size": 7.5, "strokeWidth": 1, "opacity": 0.9}, "encoding": {"y": {"field": "o", "type": "quantitative", "scale": {"domain": [13.0512, 13.7377], "nice": false, "zero": false}, "title": "Price"}, "y2": {"field": "c"}, "fill": {"condition": {"test": "datum.c >= datum.o", "value": "#00b060"}, "value": "#fe3032"}, "stroke": {"condition": {"test": "datum.c >= datum.o", "value": "#00b060"}, "value": "#fe3032"}}},
        {"transform": [{"window": [{"op": "mean", "field": "c", "as": "ma"}, {"op": "count", "as": "n"}], "frame": [-4, 0], "sort": [{"field": "i"}]}, {"filter": "datum.n >= 5"}], "mark": {"type": "line", "color": "#1f77b4", "strokeWidth": 1.3}, "encoding": {"y": {"field": "ma", "type": "quantitative", "scale": {"domain": [13.0512, 13.7377], "nice": false, "zero": false}, "title": "Price"}}},
        {"transform": [{"window": [{"op": "mean", "field": "c", "as": "ma"}, {"op": "count", "as": "n"}], "frame": [-9, 0], "sort": [{"field": "i"}]}, {"filter": "datum.n >= 10"}], "mark": {"type": "line", "color": "#ff7f0e", "strokeWidth": 1.3}, "encoding": {"y": {"field": "ma", "type": "quantitative", "scale": {"domain": [13.0512, 13.7377], "nice": false, "zero": false}, "title": "Price"}}},
        {"transform": [{"window": [{"op": "mean", "field": "c", "as": "ma"}, {"op": "count", "as": "n"}], "frame": [-19, 0], "sort": [{"field": "i"}]}, {"filter": "datum.n >= 20"}], "mark": {"type": "line", "color": "#637568", "strokeWidth": 1.6}, "encoding": {"y": {"field": "ma", "type": "quantitative", "scale": {"domain": [13.0512, 13.7377], "nice": false, "zero": false}, "title": "Price"}}}
      ]
    },
    {
      "title": {"text": "ETHUSDT 15m 17983.0", "anchor": "middle", "frame": "group", "dx": -49, "offset": 77},
      "width": 866, "height": 432, "data": {"name": "eth"},
      "encoding": {"x": {"field": "i", "type": "quantitative", "scale": {"domain": [-4, 63], "nice": false, "zero": false}, "axis": {"values": [0, 10, 20, 30, 40, 50, 60], "labels": false, "ticks": false, "domain": false, "title": null}}},
      "layer": [
        {"mark": {"type": "rule", "color": "#606060", "strokeWidth": 1.3}, "encoding": {"y": {"field": "l", "type": "quantitative", "scale": {"domain": [3016.0, 3156.1], "nice": false, "zero": false}, "axis": {"orient": "right", "values": [3020, 3040, 3060, 3080, 3100, 3120, 3140], "format": "d", "titleAngle": 270, "titleBaseline": "top"}, "title": "Price"}, "y2": {"field": "h"}}},
        {"mark": {"type": "bar", "size": 7.5, "strokeWidth": 1, "opacity": 0.9}, "encoding": {"y": {"field": "o", "type": "quantitative", "scale": {"domain": [3016.0, 3156.1], "nice": false, "zero": false}, "title": "Price"}, "y2": {"field": "c"}, "fill": {"condition": {"test": "datum.c >= datum.o", "value": "#00b060"}, "value": "#fe3032"}, "stroke": {"condition": {"test": "datum.c >= datum.o", "value": "#00b060"}, "value": "#fe3032"}}},
        {"transform": [{"window": [{"op": "mean", "field": "c", "as": "ma"}, {"op": "count", "as": "n"}], "frame": [-4, 0], "sort": [{"field": "i"}]}, {"filter": "datum.n >= 5"}], "mark": {"type": "line", "color": "#1f77b4", "strokeWidth": 1.3}, "encoding": {"y": {"field": "ma", "type": "quantitative", "scale": {"domain": [3016.0, 3156.1], "nice": false, "zero": false}, "title": "Price"}}},
        {"transform": [{"window": [{"op": "mean", "field": "c", "as": "ma"}, {"op": "count", "as": "n"}], "frame": [-9, 0], "sort": [{"field": "i"}]}, {"filter": "datum.n >= 10"}], "mark": {"type": "line", "color": "#ff7f0e", "strokeWidth": 1.3}, "encoding": {"y": {"field": "ma", "type": "quantitative", "scale": {"domain": [3016.0, 3156.1], "nice": false, "zero": false}, "title": "Price"}}},
        {"transform": [{"window": [{"op": "mean", "field": "c", "as": "ma"}, {"op": "count", "as": "n"}], "frame": [-19, 0], "sort": [{"field": "i"}]}, {"filter": "datum.n >= 20"}], "mark": {"type": "line", "color": "#637568", "strokeWidth": 1.6}, "encoding": {"y": {"field": "ma", "type": "quantitative", "scale": {"domain": [3016.0, 3156.1], "nice": false, "zero": false}, "title": "Price"}}}
      ]
    },
    {
      "width": 866, "height": 173, "data": {"name": "link"},
      "transform": [{"window": [{"op": "lag", "field": "c", "as": "pc"}], "sort": [{"field": "i"}]}],
      "mark": {"type": "bar", "size": 5.5, "clip": true, "opacity": 0.9},
      "encoding": {
        "x": {"field": "i", "type": "quantitative", "scale": {"domain": [-4, 63], "nice": false, "zero": false}, "axis": {"values": [0, 10, 20, 30, 40, 50, 60], "labelExpr": "['Dec 14, 16:15','Dec 14, 18:45','Dec 14, 21:15','Dec 14, 23:45','Dec 15, 02:15','Dec 15, 04:45',''][round(datum.value / 10)]", "labelAngle": -45, "labelAlign": "center", "labelBaseline": "middle", "labelPadding": 28, "labelOverlap": false, "labelFlush": false, "labelBound": false, "domain": false, "title": null}},
        "y": {"field": "v", "type": "quantitative", "scale": {"domain": [1200, 542300], "nice": false, "zero": false}, "axis": {"orient": "right", "values": [100000, 200000, 300000, 400000, 500000], "format": "d", "titleAngle": 270, "titleBaseline": "top"}, "title": "Volume"},
        "fill": {"condition": {"test": "datum.pc == null ? datum.c >= datum.o : datum.c >= datum.pc", "value": "#45b894"}, "value": "#fa6670"}
      }
    },
    {
      "width": 866, "height": 173, "data": {"name": "eth"},
      "transform": [{"window": [{"op": "lag", "field": "c", "as": "pc"}], "sort": [{"field": "i"}]}],
      "mark": {"type": "bar", "size": 5.5, "clip": true, "opacity": 0.9},
      "encoding": {
        "x": {"field": "i", "type": "quantitative", "scale": {"domain": [-4, 63], "nice": false, "zero": false}, "axis": {"values": [0, 10, 20, 30, 40, 50, 60], "labelExpr": "['Dec 14, 16:15','Dec 14, 18:45','Dec 14, 21:15','Dec 14, 23:45','Dec 15, 02:15','Dec 15, 04:45',''][round(datum.value / 10)]", "labelAngle": -45, "labelAlign": "center", "labelBaseline": "middle", "labelPadding": 28, "labelOverlap": false, "labelFlush": false, "labelBound": false, "domain": false, "title": null}},
        "y": {"field": "v", "type": "quantitative", "scale": {"domain": [420, 185460], "nice": false, "zero": false}, "axis": {"orient": "right", "values": [50000, 100000, 150000], "format": "d", "titleAngle": 270, "titleBaseline": "top"}, "title": "Volume"},
        "fill": {"condition": {"test": "datum.pc == null ? datum.c >= datum.o : datum.c >= datum.pc", "value": "#45b894"}, "value": "#fa6670"}
      }
    }
  ],
  "config": {
    "font": "DejaVu Sans",
    "view": {"stroke": null, "fill": "#fafafa"},
    "axis": {"labelFont": "DejaVu Sans", "labelFontSize": 14, "labelColor": "#101010", "titleFont": "DejaVu Sans", "titleFontSize": 14, "titleFontWeight": "normal", "titleColor": "#101010", "titlePadding": 6, "gridColor": "#d6d6d6", "gridWidth": 1.2, "tickColor": "#101010", "tickSize": 5, "labelPadding": 4, "domain": false},
    "title": {"font": "DejaVu Sans", "fontSize": 19.5, "fontWeight": "bold", "color": "#000000"}
  }
}
